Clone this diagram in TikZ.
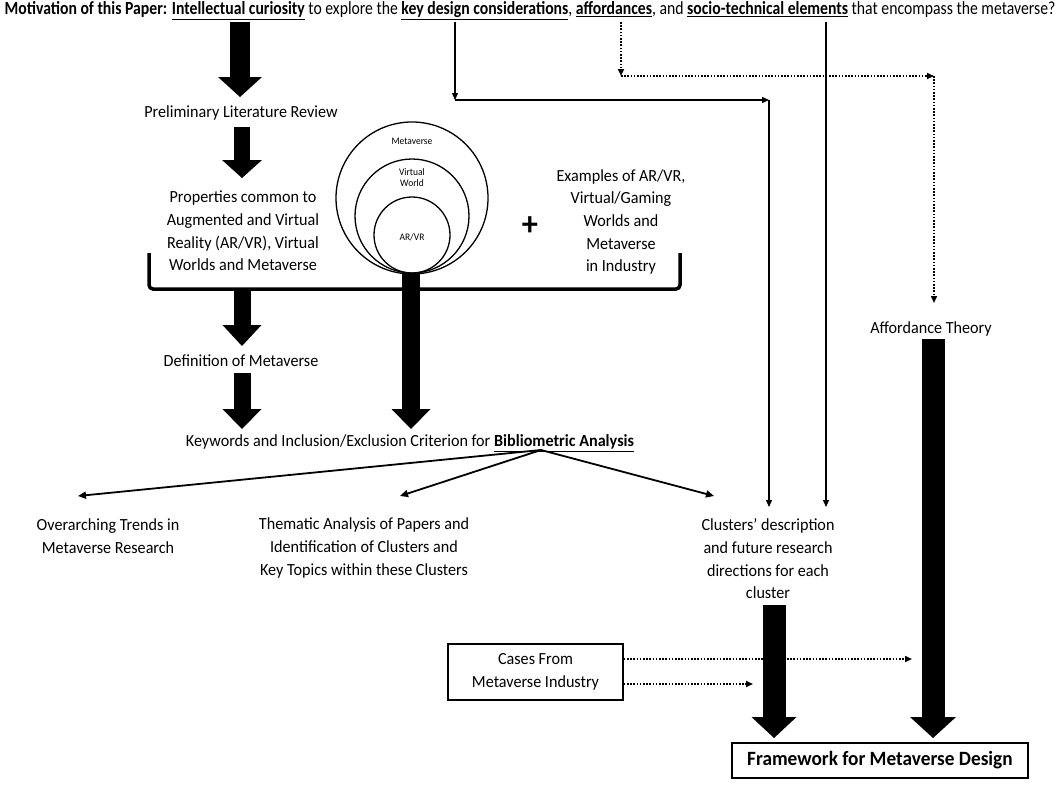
\documentclass[tikz,border=0pt]{standalone}
\usepackage{fontspec}
\setmainfont[FakeStretch=0.95]{Carlito}
\newfontfamily\titlefont[FakeStretch=0.85]{Carlito}
\usetikzlibrary{arrows.meta}
\newcommand\ub[1]{\textbf{\underline{#1}}}
\begin{document}
\begin{tikzpicture}[x=1pt,y=-1pt,
  txt/.style={font=\fontsize{17}{22.7}\selectfont, align=center, inner sep=0pt},
  small/.style={font=\fontsize{10}{11}\selectfont, align=center, inner sep=0pt},
  thinarr/.style={line width=1.3pt, -{Triangle[length=7pt,width=6pt]}},
  brarr/.style={line width=1.8pt, -{Triangle[length=8pt,width=7pt]}},
  dotarr/.style={line width=1.6pt, dash pattern=on 1.6pt off 1.6pt, -{Triangle[length=7pt,width=6pt]}},
  fat/.style args={#1/#2/#3}{line width=#1, -{Triangle[length=#2,width=#3,line width=0pt]}},
  ring/.style={circle, draw, line width=1.3pt, inner sep=0pt}]
\useasboundingbox (0,0) rectangle (1059,784);
\fill[white] (0,0) rectangle (1059,784);

% title
\node[inner sep=0pt, font=\titlefont\fontsize{18.5}{20}\selectfont] (title) at (530,11)
 {\textbf{Motivation of this Paper:} \ub{Intellectual curiosity} to explore the \ub{key design considerations}, \ub{affordances}, and \ub{socio-technical elements} that encompass the metaverse?};

% left column
\node[txt] (prelim) at (241,113) {Preliminary Literature Review};
\node[txt] (props) at (243,231) {Properties common to\\Augmented and Virtual\\Reality (AR/VR), Virtual\\Worlds and Metaverse};
\node[txt] (examples) at (621,222) {Examples of AR/VR,\\Virtual/Gaming\\Worlds and\\Metaverse\\in Industry};
\node[inner sep=0pt, font=\fontsize{34}{34}\selectfont\bfseries] (plus) at (530,226) {+};

% circles
\node[ring, minimum size=152pt] (outer) at (412,198) {};
\node[ring, minimum size=114pt] (middle) at (412,216) {};
\node[ring, minimum size=76pt] (inner) at (412,235) {};
\node[small] (lmeta) at (412,141) {Metaverse};
\node[small] (lvw) at (412,178) {Virtual\\World};
\node[small] (lar) at (412,237) {AR/VR};

% bracket
\coordinate (brL) at (149,253);
\coordinate (brR) at (680,253);
\draw[line width=3.5pt, rounded corners=4pt] (brL) -- (149,289) -- (680,289) -- (brR);

\node[txt] (defn) at (241,361) {Definition of Metaverse};
\node[txt] (keys) at (410,443) {Keywords and Inclusion/Exclusion Criterion for \ub{Bibliometric Analysis}};

\node[txt] (over) at (108,536) {Overarching Trends in\\Metaverse Research};
\node[txt] (them) at (364,548) {Thematic Analysis of Papers and\\Identification of Clusters and\\Key Topics within these Clusters};
\node[txt] (clus) at (768,559) {Clusters' description\\and future research\\directions for each\\cluster};
\node[txt] (aff) at (931,329) {Affordance Theory};

\node[draw, line width=1.4pt, minimum width=175pt, minimum height=56pt, txt] (cases) at (535.5,672) {Cases From\\Metaverse Industry};
\node[draw, line width=1.8pt, minimum width=296pt, minimum height=35pt, inner sep=0pt, font=\fontsize{20.3}{22}\selectfont\bfseries] (frame) at (880,760.5) {Framework for Metaverse Design};

% fat arrows
\coordinate (a1s) at (240,22);   \coordinate (a1e) at (240,97);
\coordinate (a2s) at (242,127);  \coordinate (a2e) at (242,178);
\coordinate (a3s) at (242,289);  \coordinate (a3e) at (242,346);
\coordinate (a4s) at (242,373);  \coordinate (a4e) at (242,429);
\coordinate (a5s) at (411,273);  \coordinate (a5e) at (411,429);
\coordinate (a6s) at (774,605);  \coordinate (a6e) at (774,738);
\coordinate (a7s) at (933,339);  \coordinate (a7e) at (933,738);
\draw[fat=20pt/20pt/44pt] (a1s) -- (a1e);
\draw[fat=16pt/18pt/40pt] (a2s) -- (a2e);
\draw[fat=17pt/21pt/39pt] (a3s) -- (a3e);
\draw[fat=17pt/20pt/39pt] (a4s) -- (a4e);
\draw[fat=18pt/20pt/39pt] (a5s) -- (a5e);
\draw[fat=23pt/21pt/45pt] (a6s) -- (a6e);
\draw[fat=23pt/21pt/46pt] (a7s) -- (a7e);

% thin solid connectors from title
\coordinate (k0) at (455,22); \coordinate (k1) at (455,100);
\coordinate (k2) at (769,100); \coordinate (k3) at (769,507);
\draw[thinarr] (k0) -- (k1);
\draw[thinarr] (k1) -- (k2);
\draw[thinarr] (k2) -- (k3);
\coordinate (s0) at (826,22); \coordinate (s1) at (826,507);
\draw[thinarr] (s0) -- (s1);

% dotted connectors
\coordinate (f0) at (621,22); \coordinate (f1) at (621,76);
\coordinate (f2) at (934,76); \coordinate (f3) at (934,303);
\draw[dotarr] (f0) -- (f1);
\draw[dotarr] (f1) -- (f2);
\draw[dotarr] (f2) -- (f3);
\coordinate (c1) at (912,659); \coordinate (c2) at (753,684);
\draw[dotarr] (cases.east |- c1) -- (c1);
\draw[dotarr] (cases.east |- c2) -- (c2);

% branch arrows
\coordinate (apex) at (541,450);
\coordinate (b1) at (78,496); \coordinate (b2) at (400,496); \coordinate (b3) at (714,496);
\draw[brarr] (apex) -- (b1);
\draw[brarr] (apex) -- (b2);
\draw[brarr] (apex) -- (b3);
\end{tikzpicture}
\end{document}
